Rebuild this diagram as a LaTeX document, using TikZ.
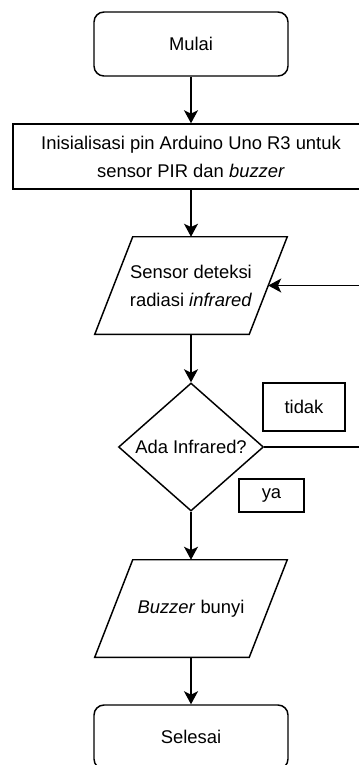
\documentclass[tikz,border=0pt]{standalone}
\usepackage{fontspec}
\setmainfont{Liberation Sans}
\usetikzlibrary{shapes}
\usetikzlibrary{shapes.geometric}
\usetikzlibrary{arrows.meta}
\tikzstyle{flowfont}=[font=\fontsize{13.8pt}{21pt}\selectfont]
\tikzstyle{terminal}=[draw, flowfont, rounded corners=7.5pt, minimum width=145.5pt, minimum height=48pt, line width=1.1pt]
\tikzstyle{process}=[draw, flowfont, minimum width=267pt, minimum height=48.75pt, align=center, line width=1.1pt]
\tikzstyle{io}=[flowfont, minimum width=115.5pt, minimum height=72.75pt, inner sep=0pt, align=center]
\tikzstyle{decision}=[draw, flowfont, diamond, aspect=1.13, minimum width=108.75pt, minimum height=96pt, inner sep=0pt, line width=1.1pt]
\tikzstyle{answer}=[draw, flowfont, line width=1.1pt]
\tikzstyle{flow}=[-{Stealth[length=9.75pt,width=10.5pt,inset=2.5pt]}, line width=1.1pt]
\newcommand{\slanted}[1]{\draw[line width=1.1pt] ([xshift=-14.25pt]#1.south west) -- ([xshift=-14.25pt]#1.south east) -- ([xshift=14.25pt]#1.north east) -- ([xshift=14.25pt]#1.north west) -- cycle;}

\begin{document}
\begin{tikzpicture}[x=0.75pt,y=-0.75pt]
\useasboundingbox (0,0) rectangle (359,765);
\clip (0,0) rectangle (359,765);
\node[terminal] (start) at (191,44) {Mulai};
\node[process] (init) at (191,156.5) {Inisialisasi pin Arduino Uno R3 untuk\\ sensor PIR dan \textit{buzzer}};
\node[io] (sensor) at (191,285.5) {Sensor deteksi\\ radiasi \textit{infrared}};
\slanted{sensor}
\node[decision] (check) at (191,447) {Ada Infrared?};
\node[answer, minimum width=61.5pt, minimum height=36pt] (no) at (304,407) {tidak};
\node[answer, minimum width=48.75pt, minimum height=24.75pt] (yes) at (271.5,495.5) {ya};
\node[io] (buzz) at (191,608.5) {\textit{Buzzer} bunyi};
\slanted{buzz}
\node[terminal] (stop) at (191,737) {Selesai};
\draw[flow] (start.south) -- (init.north);
\draw[flow] (init.south) -- (sensor.north);
\draw[flow] (sensor.south) -- (check.north);
\draw[flow] (check.south) -- (buzz.north);
\draw[flow] (buzz.south) -- (stop.north);
\draw[flow] (check.east) -- ++(150,0) |- (sensor.east);
\end{tikzpicture}
\end{document}
